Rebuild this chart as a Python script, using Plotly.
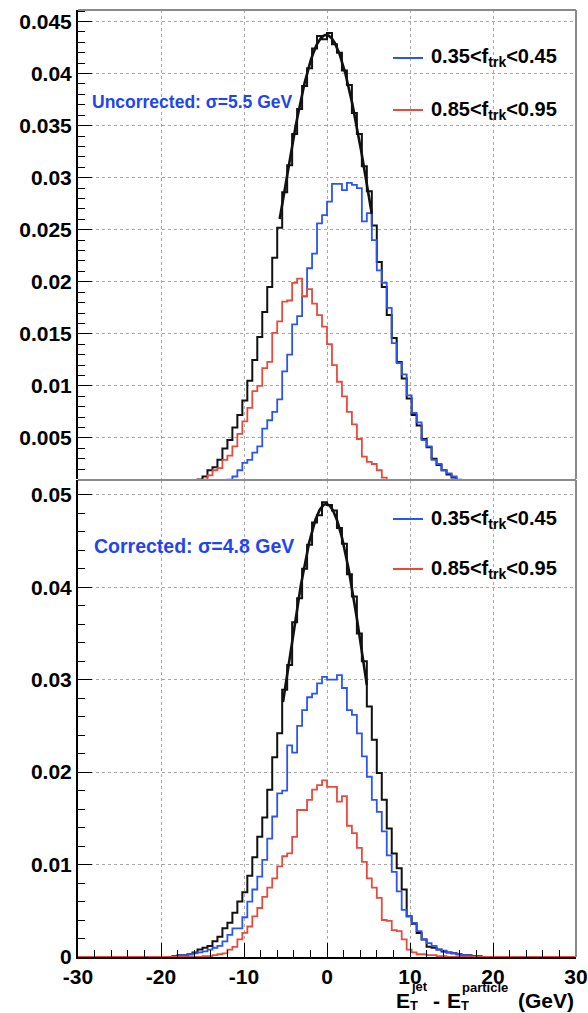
import numpy as np
import plotly.graph_objects as go

BIN_WIDTH = 0.6
X_MIN, X_MAX = -30.0, 30.0

# ---------------- Top panel (uncorrected) ----------------
top_all_start = -16.2
top_all = [0.0008, 0.0010, 0.0013, 0.0019, 0.0022, 0.0029, 0.0040, 0.0048, 0.0060, 0.0072,
           0.0086, 0.0105, 0.0125, 0.0147, 0.0171, 0.0195, 0.0223, 0.0252, 0.0286, 0.0312,
           0.0342, 0.0366, 0.0388, 0.0405, 0.0424, 0.0436, 0.0433, 0.0439, 0.0428, 0.0420,
           0.0403, 0.0389, 0.0362, 0.0342, 0.0311, 0.0287, 0.0254, 0.0219, 0.0195, 0.0168,
           0.0146, 0.0123, 0.0107, 0.0088, 0.0072, 0.0062, 0.0049, 0.0041, 0.0030, 0.0024,
           0.0019, 0.0015, 0.0012, 0.0009, 0.0007]

top_low_start = -12.6   # 0.35<ftrk<0.45
top_low = [0.0008, 0.0010, 0.0013, 0.0019, 0.0026, 0.0029, 0.0036, 0.0042, 0.0059, 0.0067,
           0.0075, 0.0087, 0.0114, 0.0130, 0.0159, 0.0167, 0.0186, 0.0213, 0.0227, 0.0256,
           0.0264, 0.0277, 0.0294, 0.0294, 0.0288, 0.0295, 0.0293, 0.0290, 0.0258, 0.0266,
           0.0240, 0.0211, 0.0199, 0.0175, 0.0141, 0.0122, 0.0111, 0.0091, 0.0074, 0.0065,
           0.0048, 0.0042, 0.0029, 0.0025, 0.0019, 0.0016, 0.0013, 0.0010, 0.0008]

top_high_start = -15.0  # 0.85<ftrk<0.95
top_high = [0.0010, 0.0014, 0.0019, 0.0021, 0.0029, 0.0033, 0.0042, 0.0054, 0.0066, 0.0079,
            0.0095, 0.0100, 0.0117, 0.0123, 0.0151, 0.0162, 0.0181, 0.0182, 0.0199, 0.0203,
            0.0186, 0.0193, 0.0179, 0.0168, 0.0157, 0.0140, 0.0120, 0.0104, 0.0090, 0.0075,
            0.0063, 0.0049, 0.0032, 0.0027, 0.0025, 0.0019, 0.0012, 0.0009, 0.0007]

# ---------------- Bottom panel (corrected) ----------------
bot_all_start = -18.6
bot_all = [0.0001, 0.0002, 0.0002, 0.0003, 0.0005, 0.0008, 0.0010, 0.0012, 0.0017, 0.0022,
           0.0031, 0.0037, 0.0048, 0.0060, 0.0070, 0.0088, 0.0108, 0.0130, 0.0151, 0.0181,
           0.0216, 0.0242, 0.0289, 0.0316, 0.0362, 0.0388, 0.0420, 0.0446, 0.0470, 0.0478,
           0.0492, 0.0489, 0.0483, 0.0464, 0.0447, 0.0414, 0.0390, 0.0350, 0.0320, 0.0271,
           0.0235, 0.0199, 0.0170, 0.0139, 0.0112, 0.0096, 0.0073, 0.0044, 0.0036, 0.0026,
           0.0019, 0.0011, 0.0010, 0.0008, 0.0006, 0.0005, 0.0004, 0.0003, 0.0002, 0.0002,
           0.0001, 0.0001]

bot_low_start = -18.6
bot_low = [0.0001, 0.0002, 0.0002, 0.0003, 0.0004, 0.0005, 0.0006, 0.0008, 0.0010, 0.0012,
           0.0017, 0.0024, 0.0031, 0.0031, 0.0043, 0.0060, 0.0073, 0.0087, 0.0105, 0.0128,
           0.0152, 0.0177, 0.0180, 0.0229, 0.0221, 0.0250, 0.0267, 0.0281, 0.0285, 0.0296,
           0.0303, 0.0300, 0.0300, 0.0305, 0.0291, 0.0267, 0.0262, 0.0242, 0.0217, 0.0195,
           0.0170, 0.0157, 0.0136, 0.0110, 0.0092, 0.0071, 0.0051, 0.0044, 0.0037, 0.0028,
           0.0019, 0.0015, 0.0012, 0.0008, 0.0007, 0.0005, 0.0004, 0.0003, 0.0002, 0.0002,
           0.0001, 0.0001]

bot_high_start = -15.0
bot_high = [0.0001, 0.0001, 0.0002, 0.0003, 0.0004, 0.0008, 0.0011, 0.0019, 0.0026, 0.0033,
            0.0044, 0.0053, 0.0065, 0.0075, 0.0085, 0.0098, 0.0109, 0.0112, 0.0130, 0.0159,
            0.0159, 0.0170, 0.0181, 0.0186, 0.0191, 0.0184, 0.0184, 0.0168, 0.0174, 0.0142,
            0.0134, 0.0118, 0.0103, 0.0085, 0.0075, 0.0064, 0.0040, 0.0039, 0.0029, 0.0028,
            0.0019, 0.0008, 0.0005, 0.0003, 0.0003, 0.0002, 0.0002, 0.0001, 0.0001]

# Gaussian fit parameters
fit_top = {"amp": 0.0437, "mean": -0.1, "sigma": 5.5, "lo": -5.7, "hi": 5.4}
fit_bot = {"amp": 0.0490, "mean": -0.1, "sigma": 4.85, "lo": -5.3, "hi": 4.8}

x_tick_vals = [-30, -20, -10, 0, 10, 20, 30]
x_tick_text = ["-30", "-20", "-10", "0", "10", "20", "30"]

legend_labels = ["0.35&lt;f<sub>trk</sub>&lt;0.45", "0.85&lt;f<sub>trk</sub>&lt;0.95"]
top_text = "Uncorrected: σ=5.5 GeV"
bot_text = "Corrected: σ=4.8 GeV"

BLACK = "#111111"
BLUE = "#2a55f2"
RED = "#ea4a3c"
TXT_BLUE = "#1f45f0"
FONT = "Liberation Sans, Arial, sans-serif"


def full_hist(start, vals):
    n = int(round((X_MAX - X_MIN) / BIN_WIDTH))
    arr = [0.0] * n
    i0 = int(round((start - X_MIN) / BIN_WIDTH))
    for k, v in enumerate(vals):
        arr[i0 + k] = v
    edges = [X_MIN + BIN_WIDTH * i for i in range(n + 1)]
    return edges, arr + [arr[-1]]


def fit_curve(p):
    xs = np.linspace(p["lo"], p["hi"], 200)
    ys = p["amp"] * np.exp(-0.5 * ((xs - p["mean"]) / p["sigma"]) ** 2)
    return xs, ys


fig = go.Figure()

def add_panel(xa, ya, all_s, all_v, low_s, low_v, high_s, high_v, fit):
    for s, v, c, w in [(all_s, all_v, BLACK, 2.0), (low_s, low_v, BLUE, 1.8), (high_s, high_v, RED, 1.8)]:
        ex, ey = full_hist(s, v)
        fig.add_trace(go.Scatter(x=ex, y=ey, mode="lines", line=dict(color=c, width=w, shape="hv"),
                                 xaxis=xa, yaxis=ya, showlegend=False, hoverinfo="skip"))
    fx, fy = fit_curve(fit)
    fig.add_trace(go.Scatter(x=fx, y=fy, mode="lines", line=dict(color=BLACK, width=2.6),
                             xaxis=xa, yaxis=ya, showlegend=False, hoverinfo="skip"))

add_panel("x2", "y2", top_all_start, top_all, top_low_start, top_low, top_high_start, top_high, fit_top)
add_panel("x", "y", bot_all_start, bot_all, bot_low_start, bot_low, bot_high_start, bot_high, fit_bot)

# pixel geometry helpers (layout only)
L, R, T, B = 78, 576, 10, 957
W, H = R - L, B - T
def px(xp):
    return (xp - L) / W
def py(yp):
    return (B - yp) / H

tickfont = dict(family=FONT, size=21, color="black", weight="bold")
grid = dict(showgrid=True, gridcolor="#a8a8a8", griddash="dot", gridwidth=1)

fig.update_layout(
    width=588, height=1013,
    margin=dict(l=L, r=588 - R, t=T, b=1013 - B, autoexpand=False),
    paper_bgcolor="white", plot_bgcolor="white",
    showlegend=False,
    xaxis=dict(domain=[0, 1], range=[X_MIN, X_MAX], anchor="y", automargin=False,
               tickmode="array", tickvals=x_tick_vals, ticktext=x_tick_text,
               ticks="inside", ticklen=14, tickwidth=1, tickcolor="black",
               minor=dict(dtick=2, ticks="inside", ticklen=7, tickcolor="black", showgrid=False),
               showline=True, linecolor="black", linewidth=2, tickfont=tickfont, zeroline=False, **grid),
    yaxis=dict(domain=[0, py(480)], range=[0, 0.0516], anchor="x", dtick=0.01, tick0=0, automargin=False,
               ticks="inside", ticklen=14, tickwidth=1, tickcolor="black",
               minor=dict(dtick=0.002, ticks="inside", ticklen=7, tickcolor="black", showgrid=False),
               showline=True, linecolor="black", linewidth=2, tickfont=tickfont, zeroline=False, **grid),
    xaxis2=dict(domain=[0, 1], range=[X_MIN, X_MAX], anchor="y2", dtick=10, tick0=0, automargin=False,
                showticklabels=False, ticks="", showline=False, zeroline=False, **grid),
    yaxis2=dict(domain=[py(479), 1], range=[0.00106, 0.0461], anchor="x2", dtick=0.005, tick0=0,
                automargin=False,
                ticks="inside", ticklen=14, tickwidth=1, tickcolor="black",
                minor=dict(dtick=0.001, ticks="inside", ticklen=7, tickcolor="black", showgrid=False),
                showline=True, linecolor="black", linewidth=2, tickfont=tickfont, zeroline=False, **grid),
)

shapes = []
border = dict(type="line", xref="paper", yref="paper", line=dict(color="#8a8a8a", width=2))
shapes.append(dict(border, x0=0, x1=1, y0=1, y1=1))
shapes.append(dict(border, x0=1, x1=1, y0=py(479), y1=1))
shapes.append(dict(border, x0=0, x1=1, y0=py(480), y1=py(480)))
shapes.append(dict(border, x0=1, x1=1, y0=0, y1=py(480)))

annotations = []
leg_font = dict(family=FONT, size=20, color="black", weight="bold")
for (y_blue, y_red) in [(58, 110), (519, 569)]:
    for yl, col, lab in [(y_blue, BLUE, legend_labels[0]), (y_red, RED, legend_labels[1])]:
        shapes.append(dict(type="line", xref="paper", yref="paper", x0=px(393), x1=px(423),
                           y0=py(yl), y1=py(yl), line=dict(color=col, width=2)))
        annotations.append(dict(xref="paper", yref="paper", x=px(429), y=py(yl), text=lab,
                                showarrow=False, xanchor="left", yanchor="middle", font=leg_font))

annotations.append(dict(xref="paper", yref="paper", x=px(90), y=py(102), text=top_text,
                        showarrow=False, xanchor="left", yanchor="middle",
                        font=dict(family=FONT, size=17.5, color=TXT_BLUE, weight="bold")))
annotations.append(dict(xref="paper", yref="paper", x=px(92), y=py(546), text=bot_text,
                        showarrow=False, xanchor="left", yanchor="middle",
                        font=dict(family=FONT, size=19.5, color=TXT_BLUE, weight="bold")))

# x-axis title with stacked sub/superscripts: E_T^jet - E_T^particle (GeV)
big = dict(family=FONT, size=21, color="black", weight="bold")
small = dict(family=FONT, size=13, color="black", weight="bold")
title_parts = [
    ("E", 395, 1000, big), ("jet", 410, 986, small), ("T", 409, 1005, small),
    ("-", 432, 1000, big),
    ("E", 446, 1000, big), ("particle", 461, 987, small), ("T", 460, 1005, small),
    ("(GeV)", 517, 1000, big),
]
for txt, xp, yp, f in title_parts:
    annotations.append(dict(xref="paper", yref="paper", x=px(xp), y=py(yp), text=txt,
                            showarrow=False, xanchor="left", yanchor="middle", font=f,
                            borderpad=0))

fig.update_layout(shapes=shapes, annotations=annotations)
fig.write_html("out.html")
